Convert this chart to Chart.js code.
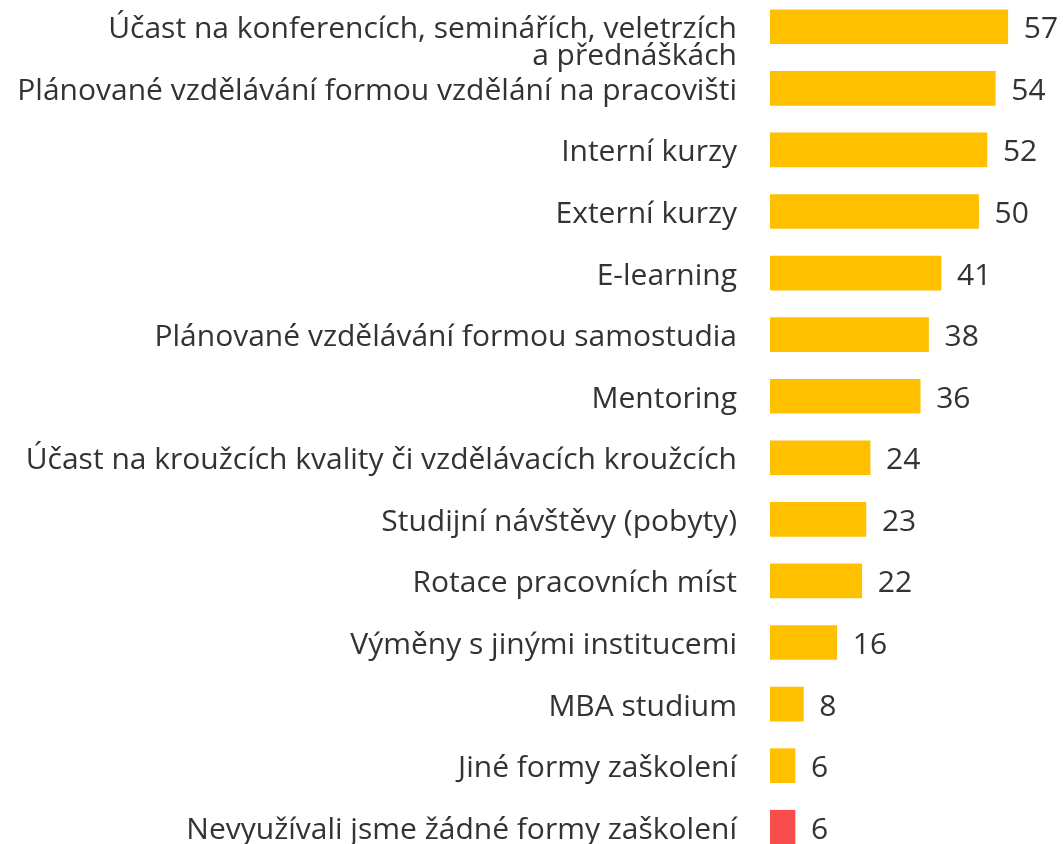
<!DOCTYPE html>
<html>
<head>
<meta charset="utf-8">
<script src="https://cdn.jsdelivr.net/npm/chart.js@4"></script>
<style>
  html, body { margin: 0; padding: 0; background: #fff; overflow: hidden; }
  #wrap { position: absolute; left: 0; top: -4px; width: 1063px; height: 862px; }
</style>
</head>
<body>
<div id="wrap"><canvas id="chart"></canvas></div>
<script>
// first label: leading empty line so the first text line sits on the bar centre
var categories = [
  ["", "Účast na konferencích, seminářích, veletrzích", "a přednáškách"],
  "Plánované vzdělávání formou vzdělání na pracovišti",
  "Interní kurzy",
  "Externí kurzy",
  "E-learning",
  "Plánované vzdělávání formou samostudia",
  "Mentoring",
  "Účast na kroužcích kvality či vzdělávacích kroužcích",
  "Studijní návštěvy (pobyty)",
  "Rotace pracovních míst",
  "Výměny s jinými institucemi",
  "MBA studium",
  "Jiné formy zaškolení",
  "Nevyužívali jsme žádné formy zaškolení"
];
var values = [57, 54, 52, 50, 41, 38, 36, 24, 23, 22, 16, 8, 6, 6];
var barColors = values.map(function(v, i) { return i == values.length - 1 ? "#F84D4D" : "#FFC000"; });

var FONT = "'Open Sans', 'Noto Sans', sans-serif";

var valueLabels = {
  id: "valueLabels",
  afterDatasetsDraw: function(chart) {
    var ctx = chart.ctx;
    var meta = chart.getDatasetMeta(0);
    ctx.save();
    ctx.font = "30px " + FONT;
    ctx.fillStyle = "#333333";
    ctx.textAlign = "left";
    ctx.textBaseline = "middle";
    meta.data.forEach(function(bar, i) {
      ctx.fillText(values[i], bar.x + 16, bar.y + 3);
    });
    ctx.restore();
  }
};

new Chart(document.getElementById("chart").getContext("2d"), {
  type: "bar",
  data: {
    labels: categories,
    datasets: [{
      data: values,
      backgroundColor: barColors,
      barThickness: 34
    }]
  },
  options: {
    indexAxis: "y",
    responsive: true,
    maintainAspectRatio: false,
    animation: false,
    layout: { padding: { left: 0, right: 1, top: 0, bottom: 0 } },
    scales: {
      x: {
        display: false,
        min: 0,
        max: 70
      },
      y: {
        grid: { display: false, drawTicks: false },
        border: { display: false },
        afterFit: function(scale) {
          scale.width = 770;
          scale.paddingTop = 0;
          scale.paddingBottom = 0;
        },
        ticks: {
          autoSkip: false,
          padding: 33,
          labelOffset: 3,
          color: "#333333",
          font: { family: FONT, size: 30, lineHeight: 0.9 }
        }
      }
    },
    plugins: {
      legend: { display: false },
      tooltip: { enabled: false }
    }
  },
  plugins: [valueLabels]
});
</script>
</body>
</html>
